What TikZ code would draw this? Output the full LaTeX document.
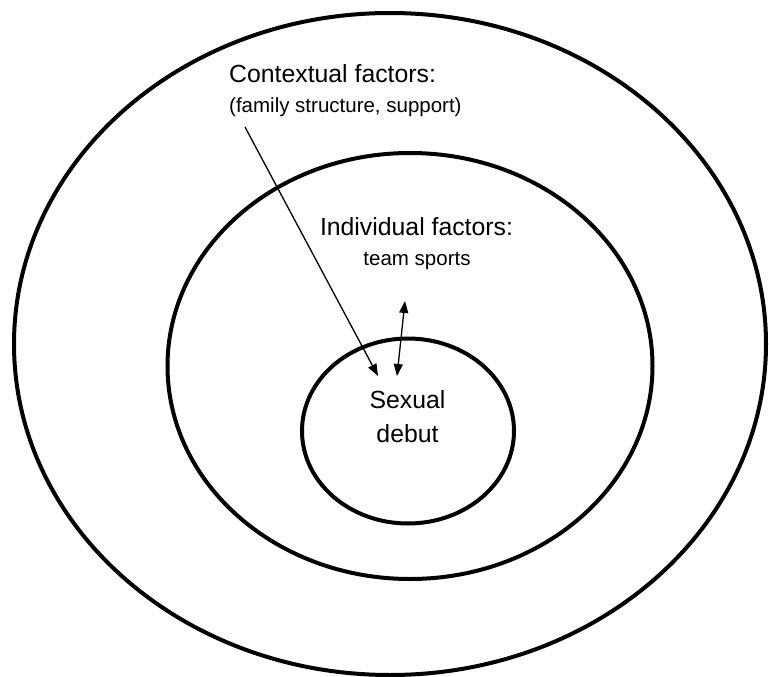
\documentclass[tikz,border=0pt]{standalone}
\usepackage{fontspec}
\setmainfont{Liberation Sans}
\usetikzlibrary{shapes.geometric,arrows.meta}
\begin{document}
\begin{tikzpicture}[x=1pt,y=-1pt,
  ring/.style={ellipse,draw=black,line width=4pt,inner sep=0pt},
  bigtxt/.style={inner sep=0pt,font=\fontsize{24.8}{30}\selectfont},
  smalltxt/.style={inner sep=0pt,font=\fontsize{20.5}{25}\selectfont},
  arr/.style={line width=1.3pt,-{Triangle[length=12pt,width=9pt]}},
  darr/.style={line width=1.3pt,{Triangle[length=12pt,width=9pt]}-{Triangle[length=12pt,width=9pt]}}]
\useasboundingbox[fill=white] (0,0) rectangle (769,677);
\node[ring,minimum width=752pt,minimum height=662pt] (outer) at (390,344) {};
\node[ring,minimum width=485pt,minimum height=426pt] (middle) at (410,366) {};
\node[ring,minimum width=212pt,minimum height=185pt] (inner) at (408,431) {};
\node[bigtxt,anchor=base west] (ctx) at (229,83) {Contextual factors:};
\node[smalltxt,anchor=base west] (ctxsub) at (229,113) {(family structure, support)};
\node[bigtxt,anchor=base] (ind) at (416.5,235) {Individual factors:};
\node[smalltxt,anchor=base] (indsub) at (417,265) {team sports};
\node[bigtxt,anchor=base] (sex) at (407.5,408) {Sexual};
\node[bigtxt,anchor=base] (deb) at (407.5,442) {debut};
\coordinate (ctxfrom) at (245,127);
\coordinate (ctxto) at (378,376);
\coordinate (indtop) at (405,301);
\coordinate (indbot) at (397,376);
\draw[arr] (ctxfrom) -- (ctxto);
\draw[darr] (indbot) -- (indtop);
\end{tikzpicture}
\end{document}
